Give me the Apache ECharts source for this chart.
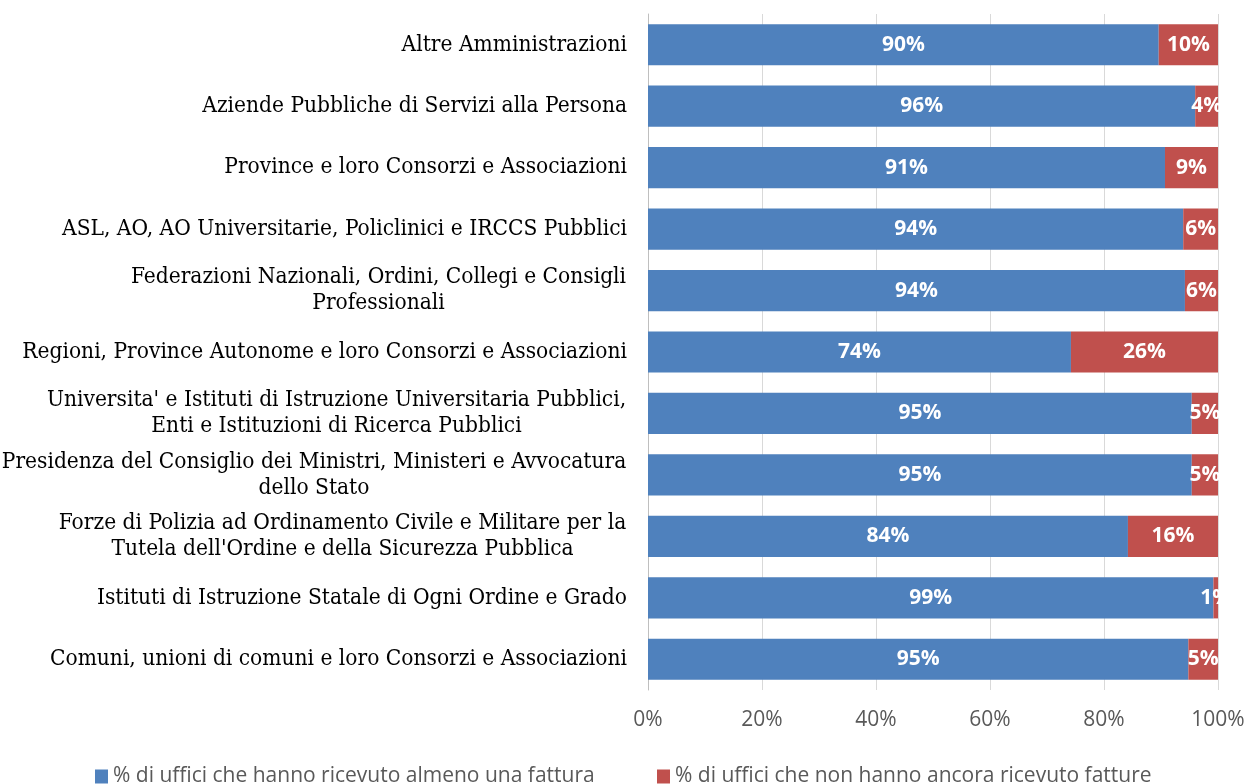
<!DOCTYPE html>
<html>
<head>
<meta charset="utf-8">
<script src="https://cdn.jsdelivr.net/npm/echarts@6/dist/echarts.min.js"></script>
<style>
  html, body { margin: 0; padding: 0; background: #fff; }
  #chart { width: 1247px; height: 784px; }
</style>
</head>
<body>
<div id="chart"></div>
<script>
// categorie, dall'alto verso il basso
const categories = [
  "Altre Amministrazioni",
  "Aziende Pubbliche di Servizi alla Persona",
  "Province e loro Consorzi e Associazioni",
  "ASL, AO, AO Universitarie, Policlinici e IRCCS Pubblici",
  "Federazioni Nazionali, Ordini, Collegi e Consigli\nProfessionali",
  "Regioni, Province Autonome e loro Consorzi e Associazioni",
  "Universita' e Istituti di Istruzione Universitaria Pubblici,\nEnti e Istituzioni di Ricerca Pubblici",
  "Presidenza del Consiglio dei Ministri, Ministeri e Avvocatura\ndello Stato",
  "Forze di Polizia ad Ordinamento Civile e Militare per la\nTutela dell'Ordine e della Sicurezza Pubblica",
  "Istituti di Istruzione Statale di Ogni Ordine e Grado",
  "Comuni, unioni di comuni e loro Consorzi e Associazioni"
];
const ricevuto = [89.6, 96.0, 90.7, 93.9, 94.2, 74.2, 95.4, 95.4, 84.2, 99.2, 94.8];
const nonRicevuto = [10.4, 4.0, 9.3, 6.1, 5.8, 25.8, 4.6, 4.6, 15.8, 0.8, 5.2];
const xTicks = [0, 20, 40, 60, 80, 100];
const seriesNames = [
  "% di uffici che hanno ricevuto almeno una fattura",
  "% di uffici che non hanno ancora ricevuto fatture"
];

const catFamily = "DejaVu Serif Condensed";
const catSize = 22.5;
const ctx = document.createElement("canvas").getContext("2d");
ctx.font = catSize + 'px "' + catFamily + '"';

// righe centrate dentro un blocco allineato a destra (come Excel)
let rich = {};
let catLabels = categories.map(function (c, i) {
  let lines = c.split("\n");
  if (lines.length == 1) return c;
  let w = Math.max.apply(null, lines.map(function (l) { return ctx.measureText(l).width; }));
  rich["c" + i] = {
    width: Math.ceil(w) + 1,
    align: "center",
    fontFamily: catFamily,
    fontSize: catSize,
    color: "#000",
    lineHeight: 26
  };
  return lines.map(function (l) { return "{c" + i + "|" + l + "}"; }).join("\n");
});

let chart = echarts.init(document.getElementById("chart"));

let labelStyle = {
  show: true,
  position: "inside",
  color: "#fff",
  fontFamily: "Open Sans",
  fontWeight: "bold",
  fontSize: 21,
  formatter: function (p) { return Math.round(p.value) + "%"; }
};

let legendText = { color: "#595959", fontFamily: "Open Sans", fontSize: 21 };

let option = {
  animation: false,
  grid: { left: 648, right: 29, top: 14, bottom: 94, containLabel: false, outerBoundsMode: "none" },
  xAxis: {
    type: "value",
    min: 0,
    max: 100,
    interval: 20,
    axisLine: { show: false },
    axisTick: { show: false },
    splitLine: { show: true, lineStyle: { color: "#d9d9d9", width: 1 } },
    axisLabel: {
      margin: 20,
      color: "#595959",
      fontFamily: "Open Sans",
      fontSize: 21,
      formatter: function (v) { return xTicks.indexOf(v) >= 0 ? v + "%" : ""; }
    }
  },
  yAxis: {
    type: "category",
    inverse: true,
    data: catLabels,
    axisLine: { show: true, lineStyle: { color: "#bfbfbf" } },
    axisTick: { show: false },
    axisLabel: {
      margin: 21,
      color: "#000",
      fontFamily: catFamily,
      fontSize: catSize,
      lineHeight: 26,
      rich: rich
    }
  },
  legend: [
    {
      data: [seriesNames[0]],
      left: 95, top: 766, padding: 0,
      itemWidth: 13, itemHeight: 14, icon: "rect",
      textStyle: legendText
    },
    {
      data: [seriesNames[1]],
      left: 657, top: 766, padding: 0,
      itemWidth: 13, itemHeight: 14, icon: "rect",
      textStyle: legendText
    }
  ],
  series: [
    {
      name: seriesNames[0],
      type: "bar",
      stack: "tot",
      barWidth: "67%",
      itemStyle: { color: "#4f81bd" },
      label: labelStyle,
      data: ricevuto
    },
    {
      name: seriesNames[1],
      type: "bar",
      stack: "tot",
      barWidth: "67%",
      itemStyle: { color: "#c0504d" },
      label: labelStyle,
      data: nonRicevuto
    }
  ]
};

chart.setOption(option);
</script>
</body>
</html>
